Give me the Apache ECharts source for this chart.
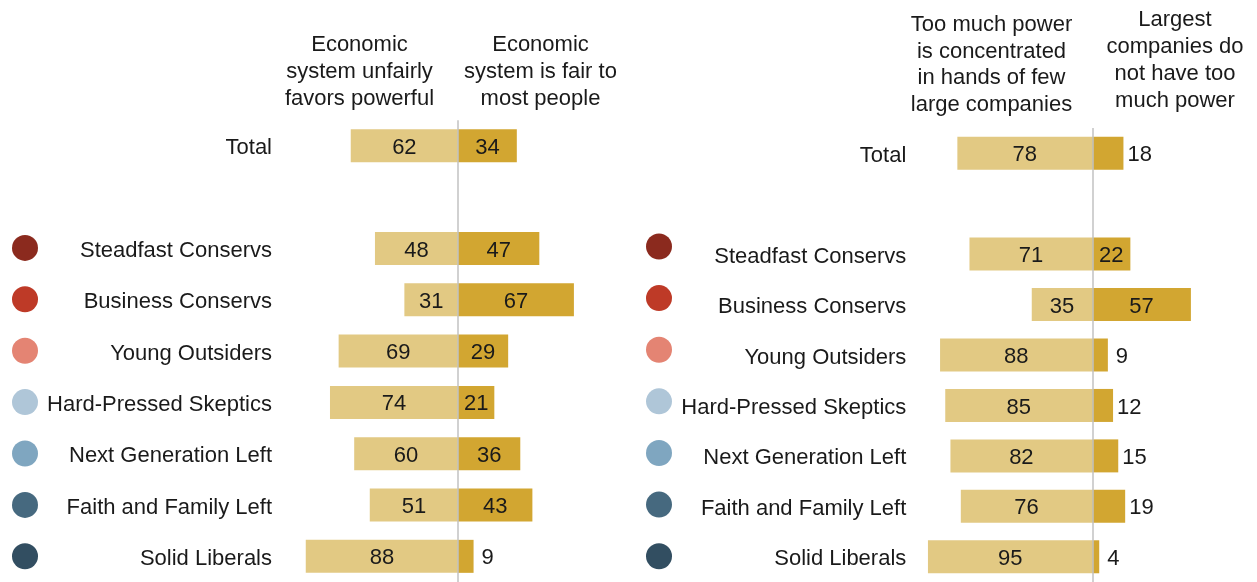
<!DOCTYPE html>
<html>
<head>
<meta charset="utf-8">
<script src="https://cdn.jsdelivr.net/npm/echarts@6/dist/echarts.min.js"></script>
<style>
  html, body { margin: 0; padding: 0; background: #fff; }
  #chart { width: 1257px; height: 582px; }
</style>
</head>
<body>
<div id="chart"></div>
<script>
// Row order top to bottom; the empty slot leaves a gap under "Total"
const categories = ['Total', '', 'Steadfast Conservs', 'Business Conservs', 'Young Outsiders',
  'Hard-Pressed Skeptics', 'Next Generation Left', 'Faith and Family Left', 'Solid Liberals'];

// Economic system question (%)
const unfairlyFavors = [62, null, 48, 31, 69, 74, 60, 51, 88];
const fairToMost     = [34, null, 47, 67, 29, 21, 36, 43, 9];

// Power of large companies question (%)
const tooMuchPower   = [78, null, 71, 35, 88, 85, 82, 76, 95];
const notTooMuch     = [18, null, 22, 57, 9, 12, 15, 19, 4];

// Typology groups shown with colored dots
const groups = ['Steadfast Conservs', 'Business Conservs', 'Young Outsiders',
  'Hard-Pressed Skeptics', 'Next Generation Left', 'Faith and Family Left', 'Solid Liberals'];
const groupColors = ['#8b2a1e', '#be3a27', '#e48473', '#afc6d8', '#7fa6c0', '#46697f', '#324e61'];

// Column headings
const headEconUnfair = ['Economic', 'system unfairly', 'favors powerful'];
const headEconFair   = ['Economic', 'system is fair to', 'most people'];
const headTooMuch    = ['Too much power', 'is concentrated', 'in hands of few', 'large companies'];
const headNotTooMuch = ['Largest', 'companies do', 'not have too', 'much power'];

const FONT = "'Liberation Sans', Arial, sans-serif";
const TEXT = '#1a1a1a';
const LIGHT = '#e2c983';
const DARK = '#d2a631';

function leftData(arr) {
  return arr.map(v => v == null ? '-' : -v);
}
function rightData(arr) {
  return arr.map(v => v == null ? '-' : {
    value: v,
    label: { position: v >= 20 ? 'inside' : 'right', distance: v < 10 ? 8 : 4 }
  });
}

const valueLabel = {
  show: true,
  position: 'inside',
  color: TEXT,
  fontSize: 22,
  fontFamily: FONT,
  offset: [0, 2],
  formatter: p => Math.abs(p.value)
};

const centerLine = {
  silent: true,
  symbol: 'none',
  label: { show: false },
  lineStyle: { type: 'solid', color: '#c2c2c2', width: 1.5 },
  data: [{ xAxis: 0 }]
};

function barAxisY(gridIndex, margin) {
  return {
    type: 'category', gridIndex, data: categories, inverse: true,
    axisLine: { show: false, onZero: false }, axisTick: { show: false },
    splitLine: { show: false },
    axisLabel: {
      margin,
      formatter: v => v ? '{t|' + v + '}' : '',
      rich: { t: { color: TEXT, fontSize: 22, fontFamily: FONT, padding: [5, 0, 0, 0] } }
    }
  };
}
function dotAxisY(gridIndex) {
  return {
    type: 'category', gridIndex, data: groups, inverse: true, show: false
  };
}
function header(lines, x, y, lh) {
  return {
    type: 'text', x, y, silent: true,
    style: {
      text: lines.join('\n'), fontSize: 22, fontFamily: FONT, fill: TEXT,
      align: 'center', verticalAlign: 'top', lineHeight: lh
    }
  };
}
function dots() {
  return groups.map((g, i) => ({
    value: [0.5, g],
    itemStyle: { color: groupColors[i], opacity: 1 }
  }));
}

const chart = echarts.init(document.getElementById('chart'), null, { renderer: 'canvas' });
chart.setOption({
  animation: false,
  backgroundColor: '#fff',
  textStyle: { fontFamily: FONT },
  grid: [
    { left: 285, width: 346, top: 120.2, bottom: -3.2 },
    { left: 919.3, width: 311.4, top: 128, bottom: -6 },
    { left: 12, width: 26, top: 222.2, bottom: -6.3 },
    { left: 646, width: 26, top: 220.7, bottom: -16.7 }
  ],
  xAxis: [
    { type: 'value', gridIndex: 0, min: -100, max: 100, show: false },
    { type: 'value', gridIndex: 1, min: -100, max: 80, show: false },
    { type: 'value', gridIndex: 2, min: 0, max: 1, show: false },
    { type: 'value', gridIndex: 3, min: 0, max: 1, show: false }
  ],
  yAxis: [barAxisY(0, 13), barAxisY(1, 13), dotAxisY(2), dotAxisY(3)],
  series: [
    {
      type: 'bar', name: 'Economic system unfairly favors powerful',
      xAxisIndex: 0, yAxisIndex: 0, stack: 'econ', barWidth: 33,
      itemStyle: { color: LIGHT }, label: valueLabel,
      data: leftData(unfairlyFavors)
    },
    {
      type: 'bar', name: 'Economic system is fair to most people',
      xAxisIndex: 0, yAxisIndex: 0, stack: 'econ', barWidth: 33,
      itemStyle: { color: DARK }, label: valueLabel,
      data: rightData(fairToMost),
      markLine: centerLine
    },
    {
      type: 'bar', name: 'Too much power is concentrated in hands of few large companies',
      xAxisIndex: 1, yAxisIndex: 1, stack: 'power', barWidth: 33,
      itemStyle: { color: LIGHT }, label: valueLabel,
      data: leftData(tooMuchPower)
    },
    {
      type: 'bar', name: 'Largest companies do not have too much power',
      xAxisIndex: 1, yAxisIndex: 1, stack: 'power', barWidth: 33,
      itemStyle: { color: DARK }, label: valueLabel,
      data: rightData(notTooMuch),
      markLine: centerLine
    },
    {
      type: 'scatter', xAxisIndex: 2, yAxisIndex: 2, symbolSize: 26, silent: true,
      data: dots()
    },
    {
      type: 'scatter', xAxisIndex: 3, yAxisIndex: 3, symbolSize: 26, silent: true,
      data: dots()
    }
  ],
  graphic: [
    header(headEconUnfair, 359.5, 31, 27.3),
    header(headEconFair, 540.5, 31, 27.3),
    header(headTooMuch, 991.5, 11.5, 26.7),
    header(headNotTooMuch, 1175, 6.5, 27)
  ]
});
</script>
</body>
</html>
